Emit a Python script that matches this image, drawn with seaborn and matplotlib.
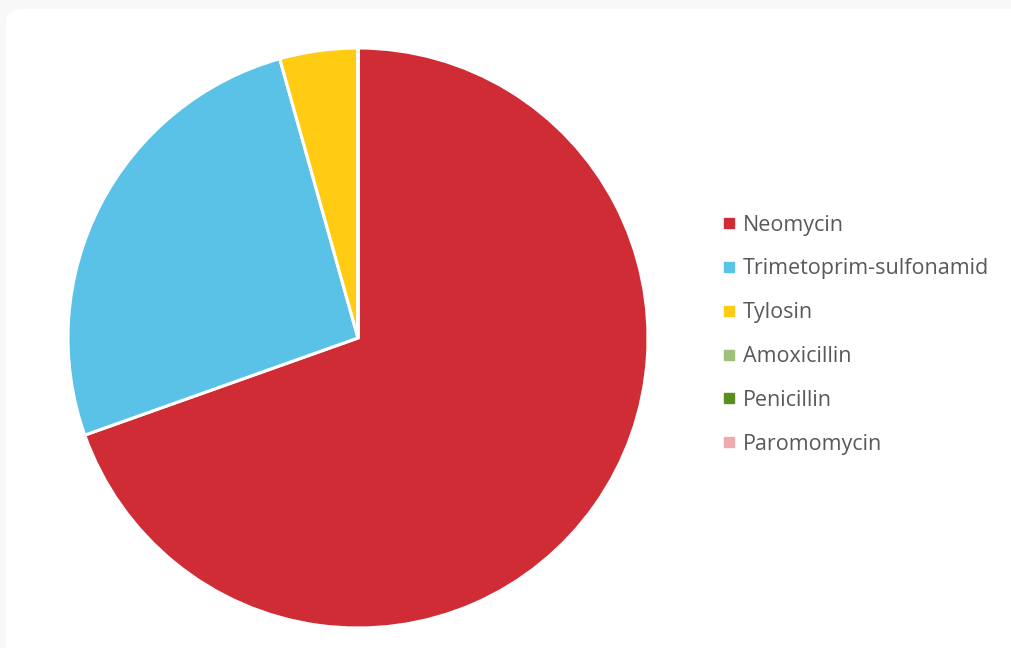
import matplotlib
matplotlib.use("Agg")
import matplotlib.pyplot as plt
import seaborn as sns
from matplotlib.lines import Line2D
from matplotlib.patches import FancyBboxPatch

sns.set_theme(style="white")
plt.rcParams['font.family'] = ['Open Sans', 'DejaVu Sans']

categories = ["Neomycin", "Trimetoprim-sulfonamid", "Tylosin", "Amoxicillin", "Penicillin", "Paromomycin"]
values = [16, 6, 1, 0, 0, 0]
colors = ["#D02C35", "#5BC2E7", "#FFCB13", "#9DC07A", "#5B8C1E", "#EFAAB0"]

W, H = 1011, 648
fig = plt.figure(figsize=(W / 100, H / 100), dpi=100, facecolor="#f8f8f8")
bg = FancyBboxPatch((6 / W, -0.05), 1.2, 1.05 - 9 / H, boxstyle="round,pad=0,rounding_size=0.02",
                    transform=fig.transFigure, facecolor="white", edgecolor="none", zorder=-5)
fig.patches.append(bg)

cx, cy, r = 358, 338, 290
ax = fig.add_axes([(cx - r) / W, (H - cy - r) / H, 2 * r / W, 2 * r / H])
ax.set_zorder(2)
ax.set_facecolor("none")
ax.pie(values, colors=colors, startangle=90, counterclock=False, radius=1,
       wedgeprops=dict(edgecolor="white", linewidth=2.2))
ax.set_xlim(-1, 1)
ax.set_ylim(-1, 1)
ax.set_aspect("equal")
ax.axis("off")

handles = [Line2D([0], [0], marker="s", linestyle="none", markersize=7.2,
                  markerfacecolor=c, markeredgecolor=c) for c in colors]
leg = fig.legend(handles, categories, loc="upper left",
                 bbox_to_anchor=(713 / W, 1 - 206 / H), frameon=False,
                 fontsize=15.5, labelcolor="#595959", handlelength=0.7,
                 handletextpad=0.3, labelspacing=1.06, borderaxespad=0)
leg.set_zorder(3)

fig.savefig("out.png", dpi=100, facecolor=fig.get_facecolor())
